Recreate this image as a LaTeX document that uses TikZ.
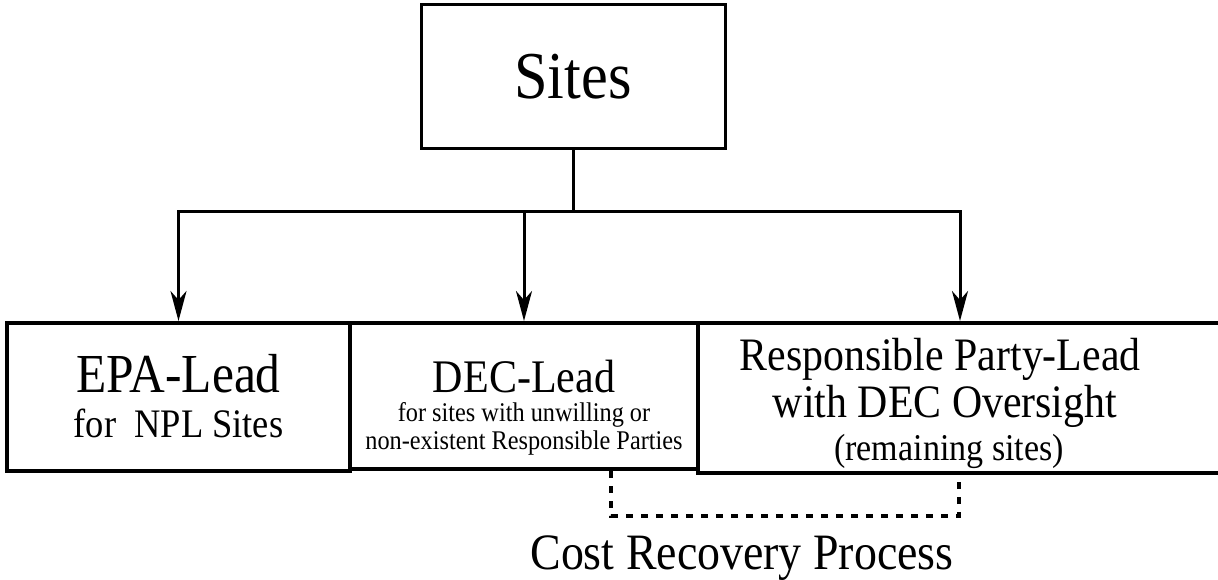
\documentclass[tikz,border=0pt]{standalone}
\usepackage{fontspec}
\setmainfont{Liberation Serif}[FakeStretch=0.9]
\usetikzlibrary{arrows.meta,positioning,calc}
\tikzset{
    % Base node style
    basenode/.style={
        draw=black,
        fill=white,
        line width=3pt,
        align=center,
        inner sep=0pt
    },
    % Top box
    sitesnode/.style={
        basenode,
        minimum width=304pt,
        minimum height=144pt,
        font=\fontsize{67}{67}\selectfont
    },
    % Lead boxes
    leadnode/.style={
        basenode,
        line width=4pt,
        text depth=0pt
    },
    % Arrow styles
    myarrow/.style={
        -{Stealth[length=30pt,width=16pt,inset=9pt]},
        line width=3pt,
        draw=black
    },
    plainline/.style={
        line width=3pt,
        draw=black
    },
    % Dotted bracket
    costline/.style={
        line width=3.5pt,
        dash pattern=on 7pt off 8pt,
        draw=black
    }
}

\begin{document}
\begin{tikzpicture}[x=1pt, y=-1pt]
    \useasboundingbox (0,0) rectangle (1218,580);
    \node[sitesnode] (sites) at (573,77) {Sites};

    \node[leadnode, minimum width=343pt, minimum height=148pt, text height=80pt,
          font=\fontsize{55}{45}\selectfont] (epa) at (178.5,397)
        {EPA-Lead\\{\fontsize{40.5}{45}\selectfont for\ \ NPL Sites}};
    \node[leadnode, minimum width=348pt, minimum height=146pt, text height=106pt,
          font=\fontsize{27}{28}\selectfont] (dec) at (524,396)
        {{\fontsize{46.7}{46}\selectfont DEC-Lead}\\[1pt]for sites with unwilling or\\non-existent Responsible Parties};
    \node[leadnode, minimum width=524pt, minimum height=150pt, text height=124pt,
          font=\fontsize{46.5}{47}\selectfont] (rp) at (960,398)
        {Responsible Party-Lead\kern40pt\\with DEC Oversight\kern30pt\\[-4pt]{\fontsize{37.8}{38}\selectfont (remaining sites)\kern22pt}};

    \coordinate (split) at (573,212);
    \coordinate (costl) at (611,516);
    \coordinate (costr) at (959,516);
    \node[anchor=base, inner sep=0pt, font=\fontsize{51}{51}\selectfont] (cost) at (742,569) {Cost Recovery Process};

    \draw[plainline] (sites) -- (split);
    \draw[myarrow] (split) -| (epa);
    \draw[myarrow] (split) -| (rp);
    \draw[myarrow] (split -| dec) -- (dec);
    \draw[costline] (dec.south -| costl) -- (costl) -- (costr) -- (rp.south -| costr);
\end{tikzpicture}
\end{document}
